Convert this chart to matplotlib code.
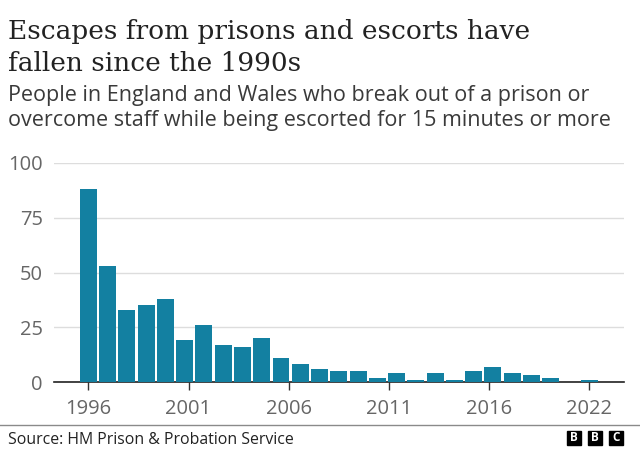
import numpy as np
import matplotlib
matplotlib.use("Agg")
import matplotlib.pyplot as plt
from matplotlib.patches import Rectangle


# data
years = list(range(1996, 2023))
escapes = [88, 53, 33, 35, 38, 19, 26, 17, 16, 20,
           11, 8, 6, 5, 5, 2, 4, 1, 4, 1,
           5, 7, 4, 3, 2, 0, 1]
tick_labels = ["1996", "2001", "2006", "2011", "2016", "2022"]
y_ticks = [0, 25, 50, 75, 100]

BAR = "#1380A1"
SANS = ["Open Sans", "DejaVu Sans"]
SERIF = ["DejaVu Serif"]

fig = plt.figure(figsize=(6.4, 4.5), dpi=100)
ax = fig.add_axes([54/640, 1 - 382/450, 570/640, 219/450])

x = np.arange(len(years))
ax.bar(x, escapes, width=0.88, color=BAR, linewidth=0, zorder=3)

ax.set_xlim(-1.78, 27.8)
ax.set_ylim(0, 100)

# ticks spread evenly from first to last bar
ax.set_xticks(np.linspace(0, len(years) - 1, len(tick_labels)))
ax.set_xticklabels(tick_labels)
ax.set_yticks(y_ticks)

ax.tick_params(axis="x", length=6, width=1, color="#333333", pad=6,
               labelsize=14.5, labelcolor="#666666")
ax.tick_params(axis="y", length=0, pad=8, labelsize=14.5, labelcolor="#666666")
for lab in ax.get_xticklabels() + ax.get_yticklabels():
    lab.set_family(SANS)

ax.grid(axis="y", color="#dddddd", linewidth=1, zorder=0)
for s in ["top", "right", "left"]:
    ax.spines[s].set_visible(False)
ax.spines["bottom"].set_color("#222222")
ax.spines["bottom"].set_linewidth(1.2)
ax.spines["bottom"].set_zorder(2)

# titles
fig.text(8/640, 1 - 39.5/450, "Escapes from prisons and escorts have",
         family=SERIF, fontsize=19, color="#222222", va="baseline")
fig.text(8/640, 1 - 70.5/450, "fallen since the 1990s",
         family=SERIF, fontsize=19, color="#222222", va="baseline")
fig.text(8/640, 1 - 101.5/450, "People in England and Wales who break out of a prison or",
         family=SANS, fontsize=15.5, color="#3a3a3a", va="baseline")
fig.text(8/640, 1 - 125.5/450, "overcome staff while being escorted for 15 minutes or more",
         family=SANS, fontsize=15.5, color="#3a3a3a", va="baseline")

# footer
fig.add_artist(plt.Line2D([0, 1], [1 - 425/450, 1 - 425/450],
                          color="#8a8a8a", linewidth=1))
fig.text(8/640, 1 - 444/450, "Source: HM Prison & Probation Service",
         family=SANS, fontsize=11.4, color="#222222", va="baseline")

for i, letter in enumerate("BBC"):
    x0 = (567 + i * 21) / 640
    fig.add_artist(Rectangle((x0, 1 - 444.5/450), 13.5/640, 14/450,
                             transform=fig.transFigure, color="black"))
    fig.text(x0 + 6.75/640, 1 - 437.5/450, letter, color="white",
             family=SANS, fontsize=8.5, fontweight="bold",
             ha="center", va="center")

fig.savefig("out.png", dpi=100)
